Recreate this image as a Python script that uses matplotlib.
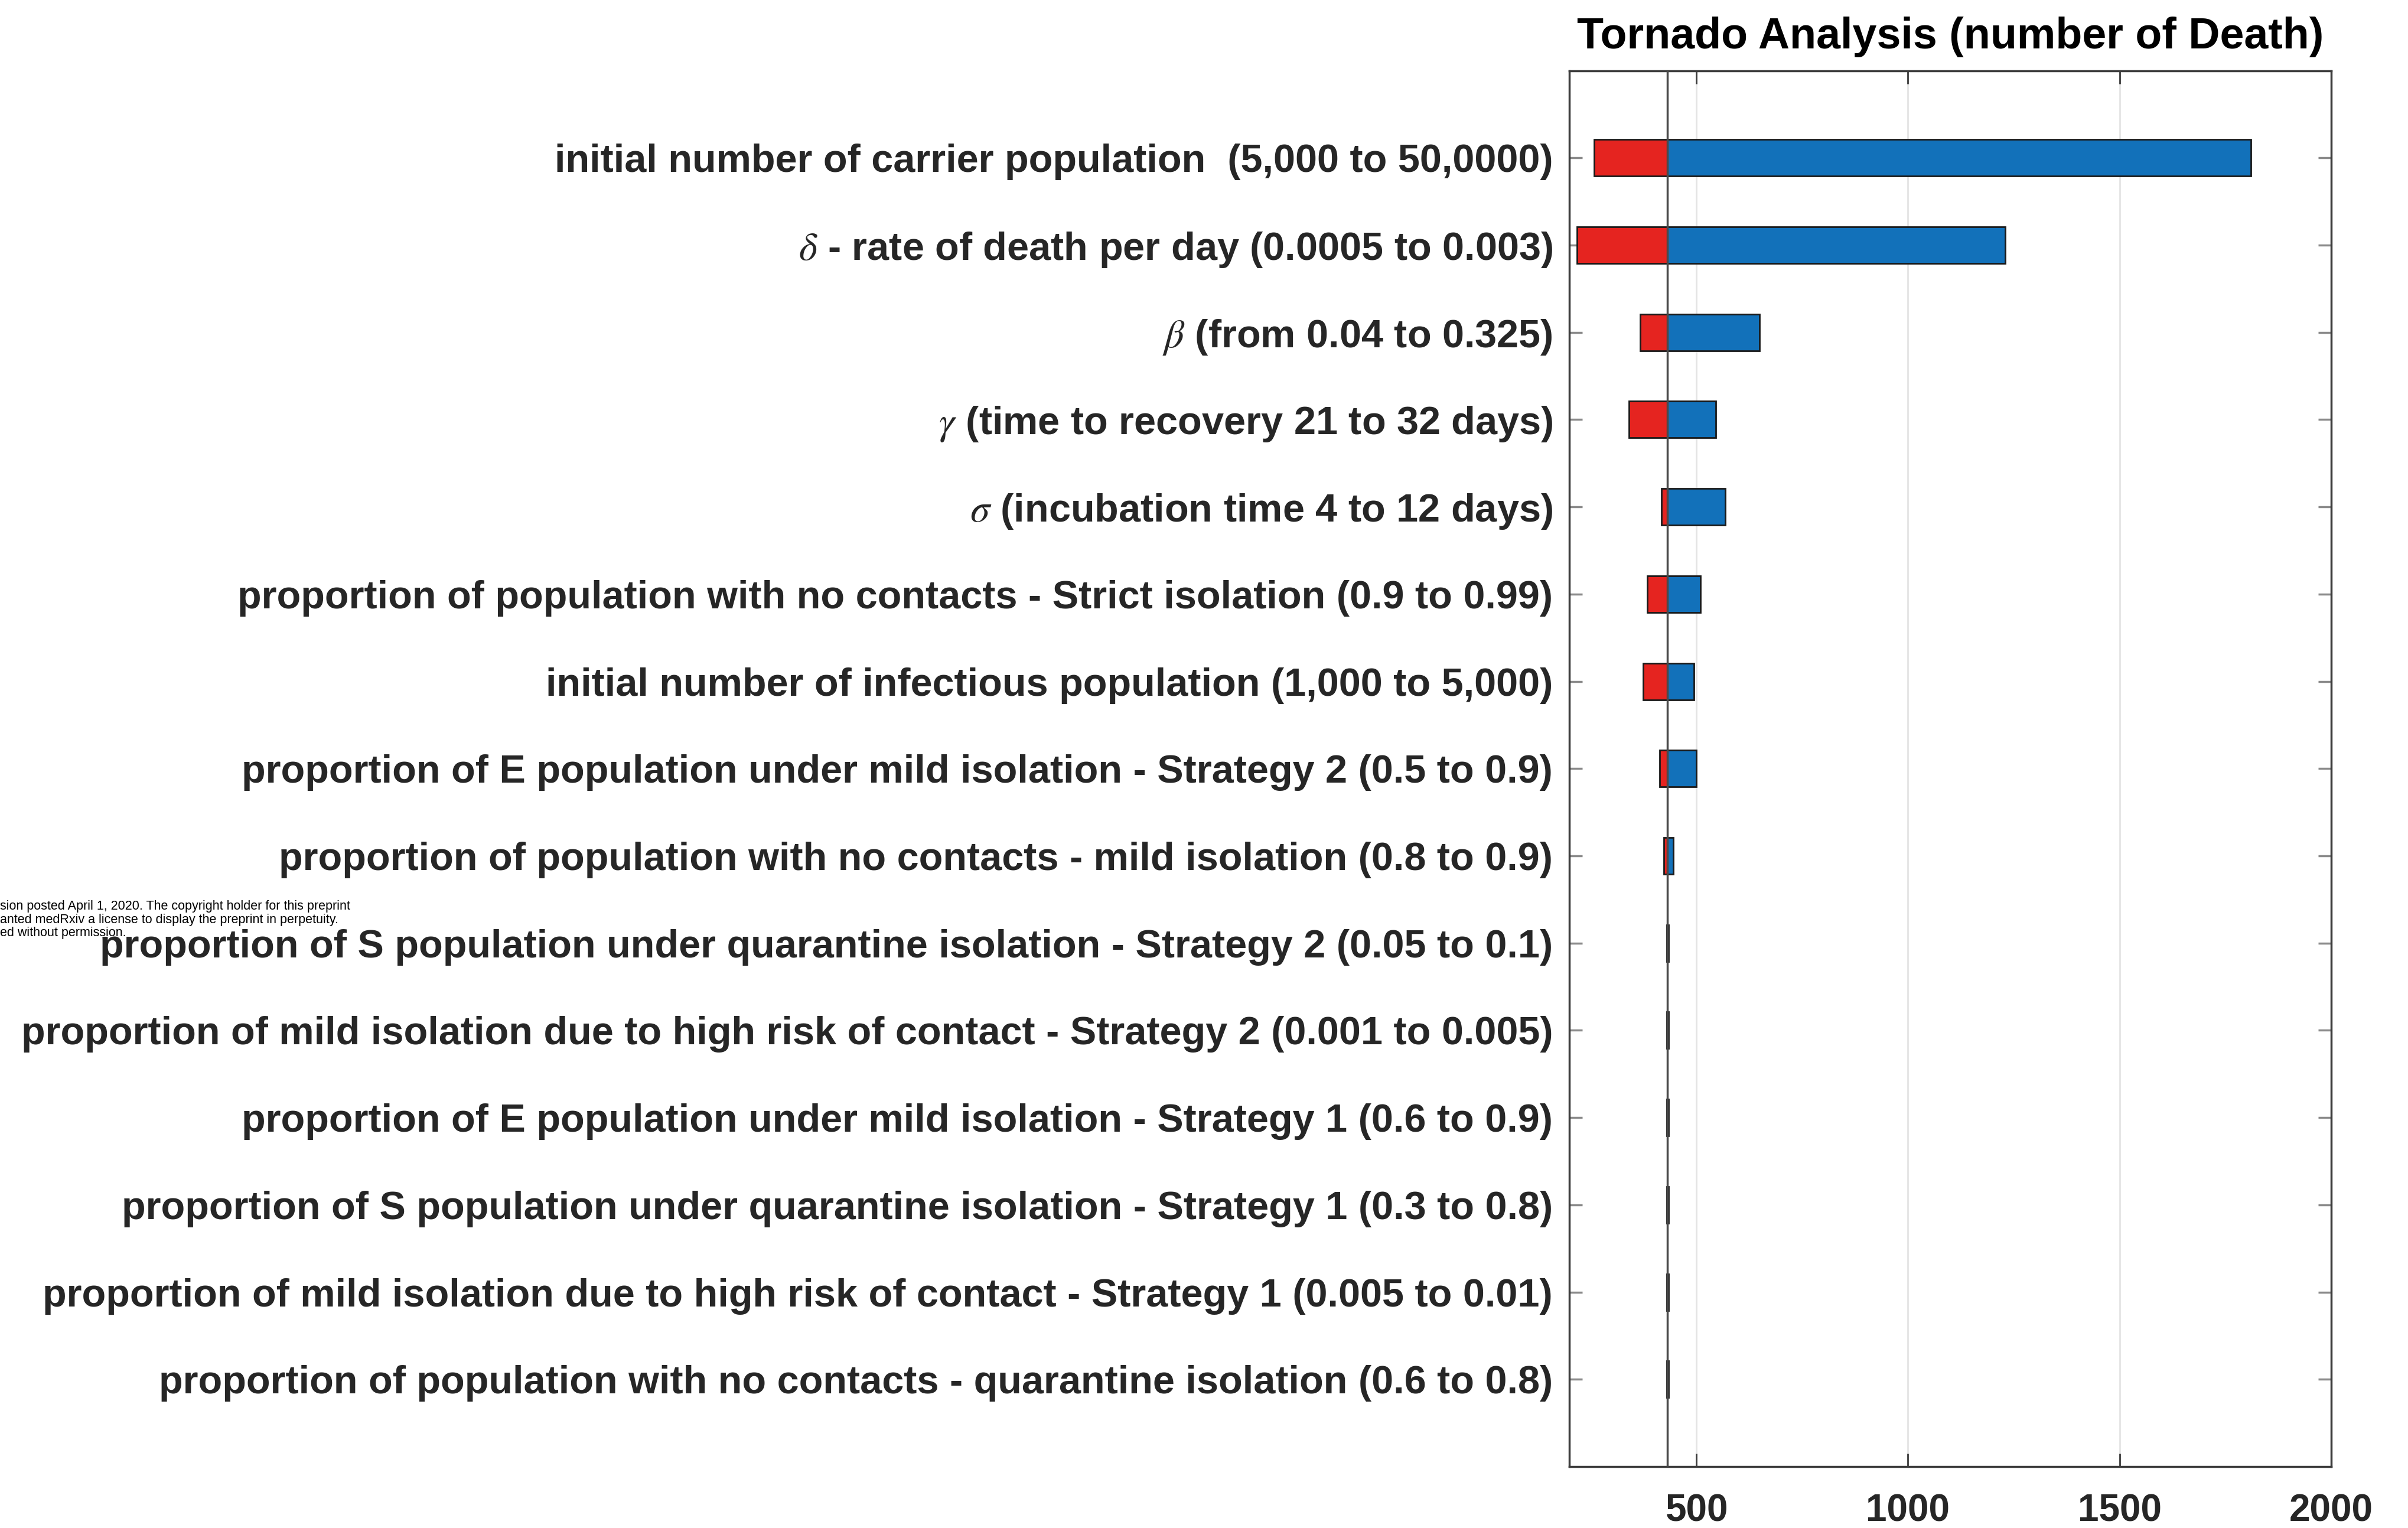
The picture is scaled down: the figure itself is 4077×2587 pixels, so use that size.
import matplotlib
matplotlib.use("Agg")
import matplotlib.pyplot as plt
import numpy as np

plt.rcParams['font.family'] = ['Liberation Sans', 'DejaVu Sans']
plt.rcParams['mathtext.fontset'] = 'stix'

# Sensitivity parameters (top to bottom) and their tornado ranges
parameters = [
    "initial number of carrier population  (5,000 to 50,0000)",
    r"$\delta$ - rate of death per day (0.0005 to 0.003)",
    r"$\beta$ (from 0.04 to 0.325)",
    r"$\gamma$ (time to recovery 21 to 32 days)",
    r"$\sigma$ (incubation time 4 to 12 days)",
    "proportion of population with no contacts - Strict isolation (0.9 to 0.99)",
    "initial number of infectious population (1,000 to 5,000)",
    "proportion of E population under mild isolation - Strategy 2 (0.5 to 0.9)",
    "proportion of population with no contacts - mild isolation (0.8 to 0.9)",
    "proportion of S population under quarantine isolation - Strategy 2 (0.05 to 0.1)",
    "proportion of mild isolation due to high risk of contact - Strategy 2 (0.001 to 0.005)",
    "proportion of E population under mild isolation - Strategy 1 (0.6 to 0.9)",
    "proportion of S population under quarantine isolation - Strategy 1 (0.3 to 0.8)",
    "proportion of mild isolation due to high risk of contact - Strategy 1 (0.005 to 0.01)",
    "proportion of population with no contacts - quarantine isolation (0.6 to 0.8)",
]
base_deaths = 432
low_deaths = [259, 218, 368, 341, 418, 384, 374, 414, 423, 430, 430, 430, 430, 430, 430]
high_deaths = [1810, 1230, 650, 546, 568, 510, 495, 500, 446, 434, 434, 434, 434, 434, 434]
x_ticks = [500, 1000, 1500, 2000]

RED = '#E52420'
BLUE = '#1271BA'
AXIS_GREY = '#3c3c3c'

fig = plt.figure(figsize=(40.77, 25.87), dpi=100)
ax = fig.add_axes([0.6517, 0.0402, 0.3164, 0.9136])

y = np.arange(1, len(parameters) + 1)
low = np.array(low_deaths, dtype=float)
high = np.array(high_deaths, dtype=float)
bar_h = 0.42

ax.barh(y, low - base_deaths, left=base_deaths, height=bar_h,
        color=RED, edgecolor='#1a1a1a', linewidth=2, zorder=3)
ax.barh(y, high - base_deaths, left=base_deaths, height=bar_h,
        color=BLUE, edgecolor='#1a1a1a', linewidth=2, zorder=3)
ax.axvline(base_deaths, color='#4a4a4a', linewidth=2.5, zorder=4)

ax.set_xlim(200, 2000)
ax.set_ylim(16, 0)
ax.set_xticks(x_ticks)
ax.set_xticklabels([str(t) for t in x_ticks])
ax.set_yticks(y)
ax.set_yticklabels(parameters)

ax.grid(axis='x', color='#e4e4e4', linewidth=2, zorder=0)
ax.set_axisbelow(True)

for s in ax.spines.values():
    s.set_color(AXIS_GREY)
    s.set_linewidth(2.5)

ax.tick_params(axis='y', direction='in', length=16, width=2.5, color='#8a8a8a',
               left=True, right=True, labelsize=48, pad=20, labelcolor='#262626')
ax.tick_params(axis='x', direction='in', length=16, width=2, color=AXIS_GREY,
               top=True, bottom=True, labelsize=46, pad=33, labelcolor='#262626')
for lbl in ax.get_yticklabels() + ax.get_xticklabels():
    lbl.set_fontweight('bold')

ax.set_title("Tornado Analysis (number of Death)", fontsize=53, fontweight='bold',
             pad=27, color='black')

# Preprint notice overlapping the left margin
notice = [
    "sion posted April 1, 2020. The copyright holder for this preprint",
    "anted medRxiv a license to display the preprint in perpetuity.",
    "ed without permission.",
]
for i, line in enumerate(notice):
    fig.text(0.0, 1 - (1535 + 22 * i) / 2587, line, fontsize=15.5, ha='left', va='center',
             color='black')

fig.savefig("out.png", dpi=100)
